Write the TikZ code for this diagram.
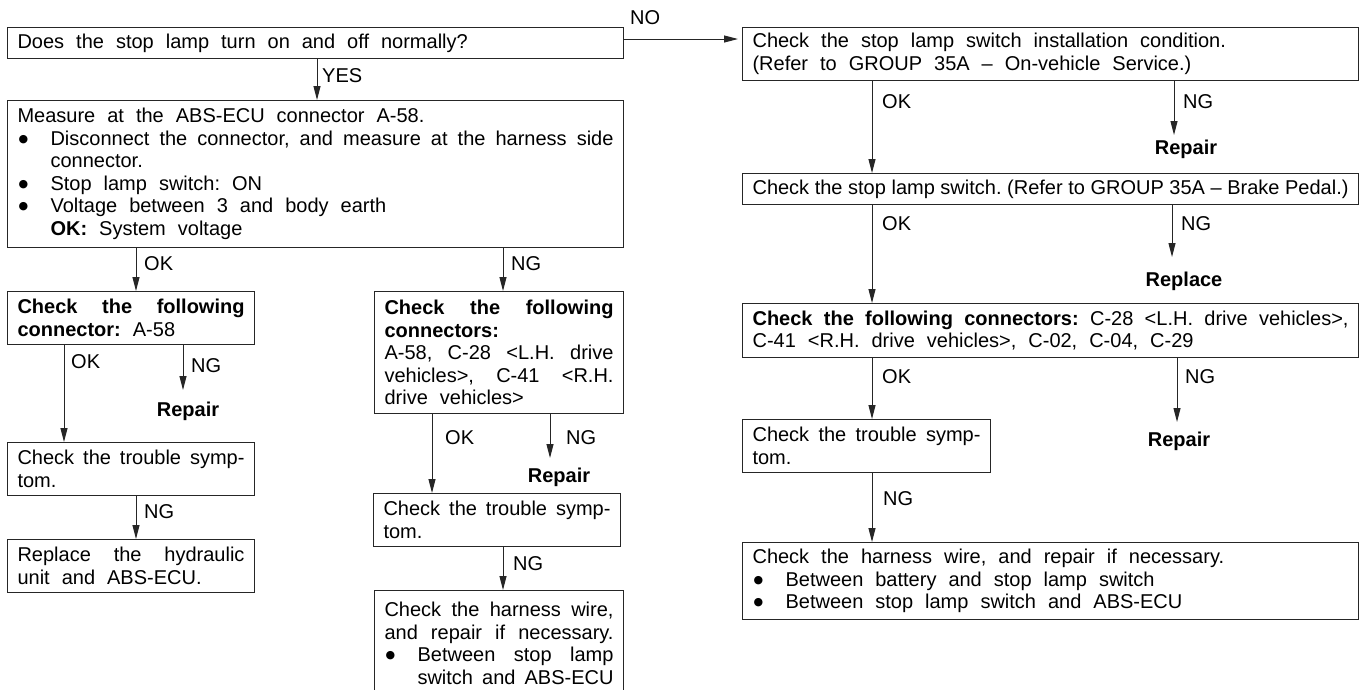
\documentclass[tikz,border=0pt]{standalone}
\usepackage{fontspec}
\setmainfont{Liberation Sans}
\newfontfamily\dejavubul{DejaVu Sans}
\usepackage{graphicx}
\usetikzlibrary{arrows.meta}
\newcommand\bodyfont{\fontsize{20pt}{22.5pt}\selectfont\frenchspacing\spaceskip=0.6em plus 0.6em minus 0.35em\relax\xspaceskip=\spaceskip\parindent=0pt\parskip=0pt\relax}
\newcommand\bul{\makebox[33pt][l]{\hspace{1pt}\raisebox{3.2pt}{\dejavubul\fontsize{11pt}{11pt}\selectfont ●}}}
\tikzset{
  box/.style={draw=black!85, line width=1.1pt, anchor=north west, inner xsep=10pt, inner ysep=0pt,
    align=justify, font=\bodyfont, execute at begin node=\bodyfont},
  lbl/.style={anchor=base west, inner sep=0pt, font=\bodyfont},
  res/.style={anchor=base, inner sep=0pt, font=\bodyfont\bfseries},
  arr/.style={line width=1pt, draw=black!85, -{Triangle[length=14pt,width=7pt]}},
}
\begin{document}
\begin{tikzpicture}[x=1pt,y=-1pt]
\useasboundingbox (0,0) rectangle (1362,689);
\fill[white] (0,0) rectangle (1362,689);

% ---------- boxes ----------
\node[box, text width=596pt, minimum height=31pt] (top) at (7,27)
  {Does the stop lamp turn on and off normally?};

\node[box, text width=596pt, minimum height=147pt] (measure) at (7,100)
  {Measure at the ABS-ECU connector A-58.\par
   \hangindent=33pt\hangafter=1\bul Disconnect the connector, and measure at the harness side\linebreak connector.\par
   \bul Stop lamp switch: ON\par
   \bul Voltage between 3 and body earth\par
   \leavevmode\hspace*{33pt}\textbf{OK:} System voltage\par};

\node[box, text width=227pt, minimum height=53pt] (lconn) at (7,291)
  {\textbf{Check the following\linebreak connector:} A-58\par};
\node[box, text width=227pt, minimum height=53pt] (lsym) at (7,442)
  {Check the trouble symp-\linebreak tom.\par};
\node[box, text width=227pt, minimum height=53pt] (lrep) at (7,539)
  {Replace the hydraulic\linebreak unit and ABS-ECU.\par};

\node[box, text width=229pt, minimum height=122pt] (mconn) at (374,291)
  {\textbf{Check the following\linebreak connectors:}\newline
   A-58, C-28 <L.H. drive\linebreak vehicles>, C-41 <R.H.\linebreak drive vehicles>\par};
\node[box, text width=227pt, minimum height=53pt] (msym) at (373,493)
  {Check the trouble symp-\linebreak tom.\par};
\node[box, text width=229pt, minimum height=106pt] (mharn) at (374,590)
  {\parfillskip=0pt Check the harness wire,\linebreak and repair if necessary.\par
   \parfillskip=0pt\hangindent=33pt\hangafter=1\bul Between stop lamp\linebreak switch and ABS-ECU\par};

\node[box, text width=596pt, minimum height=53pt] (r1) at (742,27)
  {Check the stop lamp switch installation condition.\newline
   (Refer to GROUP 35A – On-vehicle Service.)\par};
\node[box, text width=596pt, minimum height=31pt] (r2) at (742,173)
  {\parfillskip=0pt Check the stop lamp switch. (Refer to GROUP 35A – Brake Pedal.)\par};
\node[box, text width=596pt, minimum height=54pt] (r3) at (742,303)
  {\textbf{Check the following connectors:} C-28 <L.H. drive vehicles>,\linebreak
   C-41 <R.H. drive vehicles>, C-02, C-04, C-29\par};
\node[box, text width=228pt, minimum height=53pt] (rsym) at (742,419)
  {Check the trouble symp-\linebreak tom.\par};
\node[box, text width=596pt, minimum height=77pt] (rharn) at (742,542)
  {Check the harness wire, and repair if necessary.\par
   \bul Between battery and stop lamp switch\par
   \bul Between stop lamp switch and ABS-ECU\par};

% ---------- result texts ----------
\node[res] (rep1) at (188,416) {Repair};
\node[res] (rep2) at (559,482) {Repair};
\node[res] (rep3) at (1186,154) {Repair};
\node[res] (repl) at (1184,286) {Replace};
\node[res] (rep4) at (1179,446) {Repair};

\coordinate (e1) at (183,390);
\coordinate (e2) at (550,458);
\coordinate (e3) at (1174,135);
\coordinate (e4) at (1172,257);
\coordinate (e5) at (1177,422);

% ---------- connectors ----------
\draw[arr] ([yshift=-12pt]top.north east) -- ([xshift=-4pt,yshift=-12pt]r1.north west);
\draw[arr] ([xshift=310pt]top.south west) -- ([xshift=310pt]measure.north west);
\draw[arr] ([xshift=129pt]measure.south west) -- ([xshift=129pt]lconn.north west);
\draw[arr] ([xshift=496pt]measure.south west) -- ([xshift=129pt]mconn.north west);
\draw[arr] ([xshift=57pt]lconn.south west) -- ([xshift=57pt]lsym.north west);
\draw[arr] ([xshift=176pt]lconn.south west) -- (e1);
\draw[arr] ([xshift=129pt]lsym.south west) -- ([xshift=129pt]lrep.north west);
\draw[arr] ([xshift=58pt]mconn.south west) -- ([xshift=59pt]msym.north west);
\draw[arr] ([xshift=176pt]mconn.south west) -- (e2);
\draw[arr] ([xshift=130pt]msym.south west) -- ([xshift=129pt]mharn.north west);
\draw[arr] ([xshift=130pt]r1.south west) -- ([xshift=130pt]r2.north west);
\draw[arr] ([xshift=432pt]r1.south west) -- (e3);
\draw[arr] ([xshift=130pt]r2.south west) -- ([xshift=130pt]r3.north west);
\draw[arr] ([xshift=430pt]r2.south west) -- (e4);
\draw[arr] ([xshift=130pt]r3.south west) -- ([xshift=130pt]rsym.north west);
\draw[arr] ([xshift=435pt]r3.south west) -- (e5);
\draw[arr] ([xshift=130pt]rsym.south west) -- ([xshift=130pt]rharn.north west);

% ---------- connector labels ----------
\node[lbl] (lno) at (630,24) {NO};
\node[lbl] (lyes) at (322,82) {YES};
\node[lbl] (lok1) at (144,270) {OK};
\node[lbl] (lng1) at (511,270) {NG};
\node[lbl] (lok2) at (71,368) {OK};
\node[lbl] (lng2) at (191,372) {NG};
\node[lbl] (lng3) at (144,518) {NG};
\node[lbl] (lok3) at (445,444) {OK};
\node[lbl] (lng4) at (566,444) {NG};
\node[lbl] (lng5) at (513,570) {NG};
\node[lbl] (lok4) at (882,108) {OK};
\node[lbl] (lng6) at (1183,108) {NG};
\node[lbl] (lok5) at (882,230) {OK};
\node[lbl] (lng7) at (1181,230) {NG};
\node[lbl] (lok6) at (882,383) {OK};
\node[lbl] (lng8) at (1185,383) {NG};
\node[lbl] (lng9) at (883,505) {NG};
\end{tikzpicture}
\end{document}
